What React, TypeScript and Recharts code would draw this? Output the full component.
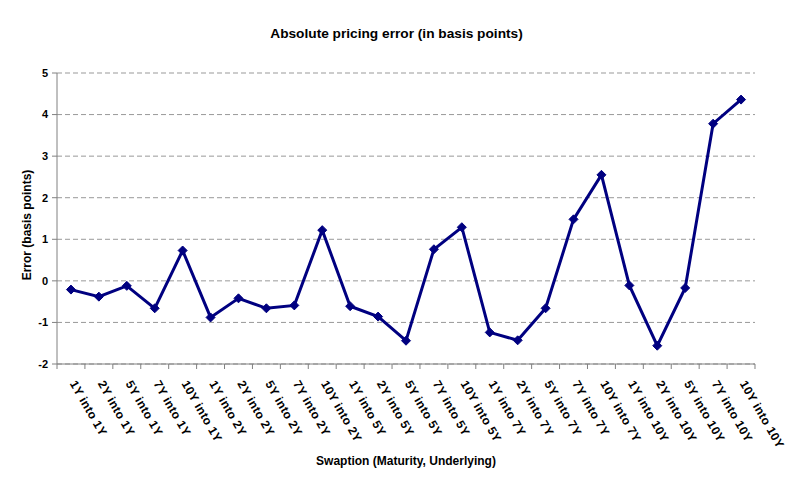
import React from 'react';
import { LineChart, Line, XAxis, YAxis, CartesianGrid } from 'recharts';

const maturities = ['1Y', '2Y', '5Y', '7Y', '10Y'];
const underlyings = ['1Y', '2Y', '5Y', '7Y', '10Y'];
const swaptions = underlyings.flatMap((u) => maturities.map((m) => `${m} into ${u}`));
const errors = [
  -0.21, -0.38, -0.12, -0.66, 0.73,
  -0.88, -0.42, -0.66, -0.59, 1.22,
  -0.61, -0.86, -1.44, 0.76, 1.29,
  -1.24, -1.43, -0.66, 1.48, 2.55,
  -0.11, -1.56, -0.17, 3.78, 4.36,
];
const yTicks = [-2, -1, 0, 1, 2, 3, 4, 5];

const data = swaptions.map((name, i) => ({ name, error: errors[i] }));

const W = 789;
const H = 487;
const margin = { top: 73, right: 34, left: 17, bottom: 23 };
const yAxisWidth = 40;
const plotWidth = W - margin.left - margin.right - yAxisWidth;
const halfBand = plotWidth / swaptions.length / 2;
const font = '"Liberation Sans", Arial, sans-serif';

const XTick = (props: any) => {
  const { x, y, payload, index } = props;
  const last = index === swaptions.length - 1;
  return (
    <g transform={`translate(${x},${y})`}>
      <line x1={-halfBand} x2={-halfBand} y1={0} y2={5} stroke="#808080" />
      {last && <line x1={halfBand} x2={halfBand} y1={0} y2={5} stroke="#808080" />}
      <text
        transform="translate(-1.5,19.5) rotate(60)"
        textAnchor="start"
        fontSize={12}
        fontWeight="bold"
        fontFamily={font}
        letterSpacing={0.4}
        fill="#000"
      >
        {payload.value}
      </text>
    </g>
  );
};

const Diamond = (props: any) => {
  const { cx, cy, index } = props;
  if (cx == null || cy == null) return <g key={index} />;
  const r = 4.5;
  return (
    <polygon
      key={index}
      points={`${cx},${cy - r} ${cx + r},${cy} ${cx},${cy + r} ${cx - r},${cy}`}
      fill="#000080"
      stroke="#000080"
    />
  );
};

export default function App() {
  return (
    <div style={{ position: 'absolute', left: 0, top: 0, width: W, height: H, background: '#fff', fontFamily: font }}>
      <div
        style={{
          position: 'absolute',
          left: 0,
          width: 793,
          top: 26,
          textAlign: 'center',
          fontSize: 13.7,
          fontWeight: 'bold',
          lineHeight: '16px',
        }}
      >
        Absolute pricing error (in basis points)
      </div>
      <div
        style={{
          position: 'absolute',
          left: 27 - 100,
          top: 225 - 8,
          width: 200,
          lineHeight: '16px',
          textAlign: 'center',
          fontSize: 12,
          fontWeight: 'bold',
          transform: 'rotate(-90deg)',
        }}
      >
        Error (basis points)
      </div>
      <div
        style={{
          position: 'absolute',
          left: 406 - 150,
          top: 453,
          width: 300,
          lineHeight: '16px',
          textAlign: 'center',
          fontSize: 12,
          fontWeight: 'bold',
        }}
      >
        Swaption (Maturity, Underlying)
      </div>
      <LineChart width={W} height={H} data={data} margin={margin}>
        <CartesianGrid vertical={false} stroke="#999" strokeDasharray="5 3" />
        <XAxis
          dataKey="name"
          scale="band"
          interval={0}
          height={100}
          tickLine={false}
          tickSize={0}
          tickMargin={0}
          stroke="#808080"
          tick={<XTick />}
        />
        <YAxis
          domain={[-2, 5]}
          ticks={yTicks}
          width={yAxisWidth}
          stroke="#808080"
          tickSize={5}
          tickMargin={4}
          tick={{ fill: '#000', fontSize: 11, fontWeight: 'bold', fontFamily: font }}
        />
        <Line
          type="linear"
          dataKey="error"
          stroke="#000080"
          strokeWidth={3}
          dot={<Diamond />}
          activeDot={false}
          isAnimationActive={false}
        />
      </LineChart>
    </div>
  );
}
